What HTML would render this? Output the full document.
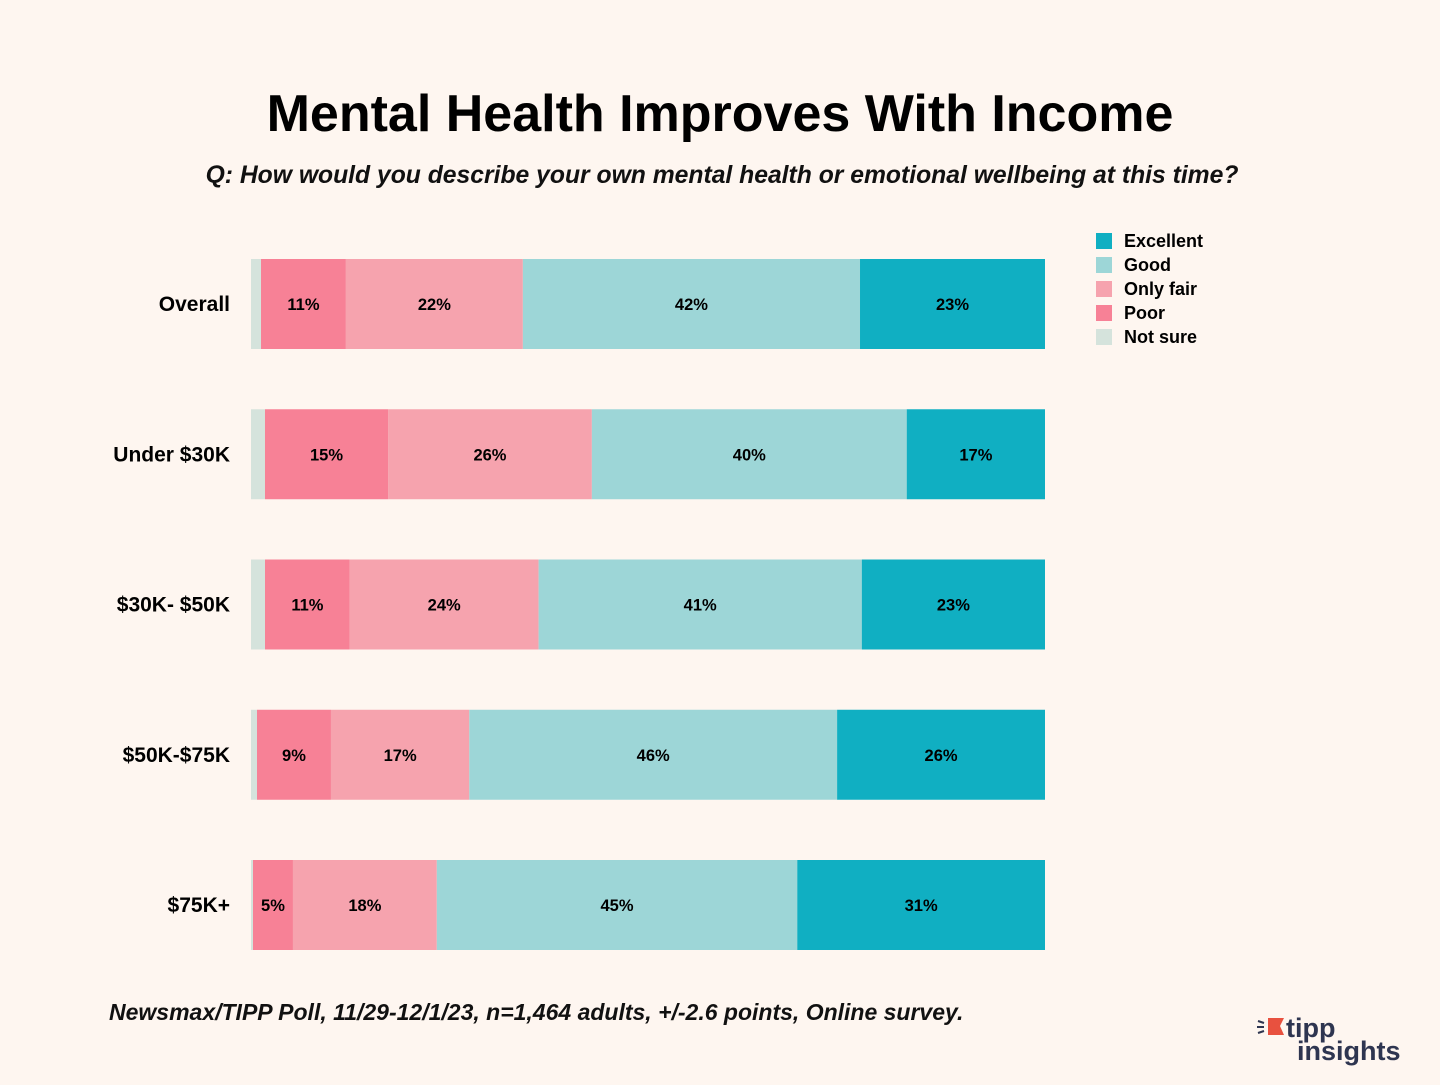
<!DOCTYPE html>
<html><head><meta charset="utf-8"><style>
body{margin:0;background:#FEF6F0;width:1440px;height:1080px;overflow:hidden;font-family:"Liberation Sans",sans-serif}
</style></head><body>
<svg id="chart" width="1440" height="1080" xmlns="http://www.w3.org/2000/svg">
<rect width="1440" height="1080" fill="#FEF6F0"/>
<text x="720" y="131" text-anchor="middle" font-size="52" font-weight="bold" fill="#000">Mental Health Improves With Income</text>
<text x="722" y="183" text-anchor="middle" font-size="24.7" font-style="italic" font-weight="bold" fill="#111">Q: How would you describe your own mental health or emotional wellbeing at this time?</text>
<g id="bars"></g>
<g id="legend"></g>
<text x="109" y="1020" font-size="23" font-style="italic" font-weight="bold" fill="#111">Newsmax/TIPP Poll, 11/29-12/1/23, n=1,464 adults, +/-2.6 points, Online survey.</text>
<g>
<polygon points="1268,1018 1284,1018 1280,1026 1284,1035 1268,1035" fill="#E8513F"/>
<line x1="1258" y1="1021" x2="1264" y2="1023" stroke="#2E3550" stroke-width="2"/>
<line x1="1257" y1="1027" x2="1264" y2="1027" stroke="#2E3550" stroke-width="2"/>
<line x1="1258" y1="1033" x2="1264" y2="1031" stroke="#2E3550" stroke-width="2"/>
<text x="1286" y="1037" font-size="27" font-weight="bold" fill="#2E3550">tipp</text>
<text x="1297" y="1060" font-size="27" font-weight="bold" fill="#2E3550">insights</text>
</g>
</svg>
<script>
const categories = ["Overall","Under $30K","$30K- $50K","$50K-$75K","$75K+"];
const seriesNames = ["Not sure","Poor","Only fair","Good","Excellent"];
const notSure = [1.25,1.75,1.75,0.75,0.25];
const poor = [10.6,15.4,10.6,9.25,5];
const onlyFair = [22.1,25.5,23.6,17.3,18];
const good = [42.1,39.4,40.4,46,45.1];
const excellent = [23.1,17.3,22.9,26,31];
const poorLabels = ["11%","15%","11%","9%","5%"];
const fairLabels = ["22%","26%","24%","17%","18%"];
const goodLabels = ["42%","40%","41%","46%","45%"];
const excLabels = ["23%","17%","23%","26%","31%"];
const colors = ["#D5E3DC","#F78196","#F6A3AE","#9DD6D7","#10AFC2"];
const NS="http://www.w3.org/2000/svg";
const x0=251,x1=1045,bandTop=259,bandStep=150.25,barH=90;
function yPos(i){return bandTop+i*bandStep;}
function xScale(v,total){return (v/total)*(x1-x0);}
const series=[notSure,poor,onlyFair,good,excellent];
const labels=[null,poorLabels,fairLabels,goodLabels,excLabels];
const g=document.getElementById('bars');
categories.forEach((c,i)=>{
  const total=series.reduce((s,a)=>s+a[i],0);
  const y=yPos(i);
  const t=document.createElementNS(NS,'text');
  
  
  t.setAttribute('x',230);t.setAttribute('y',y+barH/2+7);t.setAttribute('text-anchor','end');
  t.setAttribute('font-size','21');t.setAttribute('font-weight','bold');t.textContent=c;g.appendChild(t);
  let x=x0;
  series.forEach((s,k)=>{
    const w=xScale(s[i],total);
    const r=document.createElementNS(NS,'rect');
    
    
    r.setAttribute('x',x);r.setAttribute('y',y);r.setAttribute('width',w);r.setAttribute('height',barH);r.setAttribute('fill',colors[k]);
    g.appendChild(r);
    if(labels[k]){
      const l=document.createElementNS(NS,'text');
      
      
      l.setAttribute('x',x+w/2);l.setAttribute('y',y+barH/2+6);l.setAttribute('text-anchor','middle');
      l.setAttribute('font-size','16.5');l.setAttribute('font-weight','bold');l.textContent=labels[k][i];g.appendChild(l);
    }
    x+=w;
  });
});
const lg=document.getElementById('legend');
[4,3,2,1,0].forEach((k,j)=>{
  const y=233+j*24;
  const r=document.createElementNS(NS,'rect');
  
  
  r.setAttribute('x',1096);r.setAttribute('y',y);r.setAttribute('width',16);r.setAttribute('height',16);r.setAttribute('fill',colors[k]);lg.appendChild(r);
  const t=document.createElementNS(NS,'text');
  
  
  t.setAttribute('x',1124);t.setAttribute('y',y+14);t.setAttribute('font-size','18');t.setAttribute('font-weight','bold');t.textContent=seriesNames[k];lg.appendChild(t);
});
</script>
</body></html>
